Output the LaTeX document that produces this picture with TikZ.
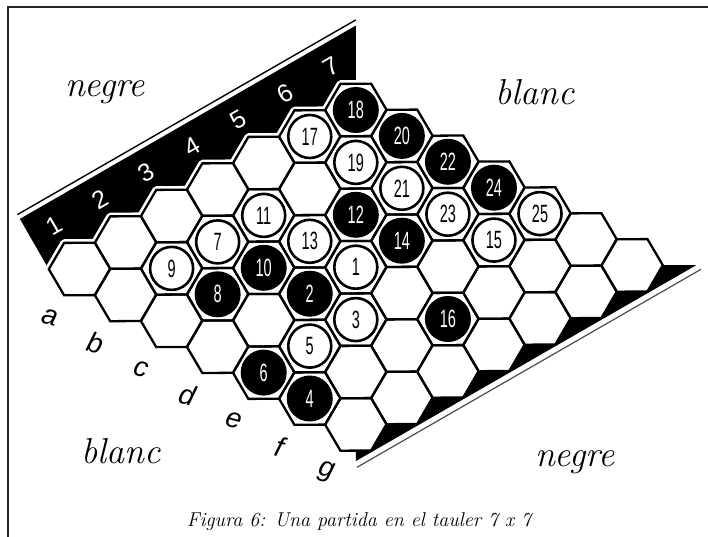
\documentclass[tikz,border=0pt]{standalone}
\usepackage{fontspec}
\newfontfamily\sansf{Liberation Sans}
\usetikzlibrary{calc}
\newcommand\stnum[1]{\scalebox{0.58}[1]{#1}}
\begin{document}
\begin{tikzpicture}[x=1pt,y=-1pt,
  hexline/.style={line width=2.3pt, line join=miter},
  wstone/.style={circle, draw=black, line width=2.6pt, fill=white, minimum size=43pt, inner sep=0pt, font=\sansf\fontsize{25}{25}\selectfont},
  bstone/.style={circle, fill=black, minimum size=46pt, inner sep=0pt, text=white, font=\sansf\fontsize{25}{25}\selectfont},
  colnum/.style={text=white, font=\sansf\fontsize{25}{25}\selectfont, rotate=30},
  rowlbl/.style={font=\sansf\itshape\fontsize{28}{28}\selectfont, rotate=-15},
  hand/.style={font=\itshape\fontsize{36}{36}\selectfont, anchor=base},
  capt/.style={font=\itshape\fontsize{20}{20}\selectfont, anchor=base},
]
\useasboundingbox (0,0) rectangle (708,537);
\fill[white] (0,0) rectangle (708,537);
\draw[line width=1.6pt, black!85] (8,537) -- (8,7) -- (708,7);

% outer thin lines of the two borders
\draw[line width=1.4pt] (17.4,214.6) -- (355.8,19.9);
\draw[line width=1.2pt, black!70] (357,467.3) -- (701,269.3);

\begin{scope}[shift={(79.5,269)}, x={(46.05pt,26.5pt)}, y={(46.05pt,-25.9pt)}]
  \coordinate (L00) at (-1/3,-1/3);
  \coordinate (topmid) at (6.5,-0.5);
  \coordinate (topup) at ($(topmid)+(0,100pt)$);
  \coordinate (botmid) at (-0.5,6.5);
  \coordinate (botdn) at ($(botmid)+(0,-100pt)$);
  \coordinate (Rgg) at (6+1/3,6+1/3);
  \coordinate (Rggr) at ($(Rgg)+(100pt,0)$);
  \coordinate (LRg0) at (-1/3,6+2/3);
  % top band
  \coordinate (P1) at ($(L00)+(-28.9pt,50.3pt)$);
  \coordinate (P1b) at ($(P1)+(86.67pt,49.88pt)$);
  \coordinate (P2) at (intersection of P1--P1b and topmid--topup);
  \fill[black] (P1) -- (P2) -- (topmid)
     \foreach \c in {6,5,...,0}{ -- (\c+1/3,-2/3) -- (\c-1/3,-1/3)} -- cycle;
  \draw[white, line width=7.5pt, line join=round] (topmid)
     \foreach \c in {6,5,...,0}{ -- (\c+1/3,-2/3) -- (\c-1/3,-1/3)};
  % bottom band
  \coordinate (Q1) at ($(LRg0)+(0.75pt,-1.3pt)$);
  \coordinate (Q1b) at ($(Q1)+(86.67pt,49.88pt)$);
  \coordinate (Lend) at (intersection of Q1--Q1b and botmid--botdn);
  \coordinate (Rend) at (intersection of Q1--Q1b and Rgg--Rggr);
  \fill[black] (botmid)
     \foreach \c in {0,...,6}{ -- (\c-1/3,6+2/3) -- (\c+1/3,6+1/3)} -- (Rend) -- (Lend) -- cycle;
  % hexes
  \foreach \c in {0,...,6}{
    \foreach \r in {0,...,6}{
      \draw[hexline] (\c+1/3,\r+1/3) -- ++(1/3,-2/3) -- ++(-1/3,-1/3) -- ++(-2/3,1/3)
         -- ++(-1/3,2/3) -- ++(1/3,1/3) -- cycle;
    }
  }
  % column numbers
  \foreach \c [evaluate=\c as \n using int(\c+1)] in {0,...,6}{
    \node[colnum] (col\n) at ($(\c,0)+(-25pt,43.3pt)$) {\n};
  }
  % row letters
  \foreach \r/\l in {0/a,1/b,2/c,3/d,4/e,5/f,6/g}{
    \node[rowlbl] (row\l) at ($(0,\r)+(-30pt,-48pt)$) {\l};
  }
  % stones
  \foreach \n/\c/\r/\s in {1/3/3/wstone,2/2/3/bstone,3/2/4/wstone,4/0/5/bstone,5/1/4/wstone,
     6/0/4/bstone,7/2/1/wstone,8/1/2/bstone,9/1/1/wstone,10/2/2/bstone,11/3/1/wstone,
     12/4/2/bstone,13/3/2/wstone,14/4/3/bstone,15/5/4/wstone,16/3/5/bstone,17/5/0/wstone,
     18/6/0/bstone,19/5/1/wstone,20/6/1/bstone,21/5/2/wstone,22/6/2/bstone,23/5/3/wstone,
     24/6/3/bstone,25/6/4/wstone}{
    \node[\s] (s\n) at (\c,\r) {\stnum{\n}};
  }
\end{scope}

\node[hand] (negreA) at (105,97) {negre};
\node[hand] (blancA) at (535,105) {blanc};
\node[hand] (blancB) at (121,463) {blanc};
\node[hand] (negreB) at (575,466) {negre};
\node[capt] (cap) at (359,526) {Figura 6: Una partida en el tauler 7 x 7};
\end{tikzpicture}
\end{document}
